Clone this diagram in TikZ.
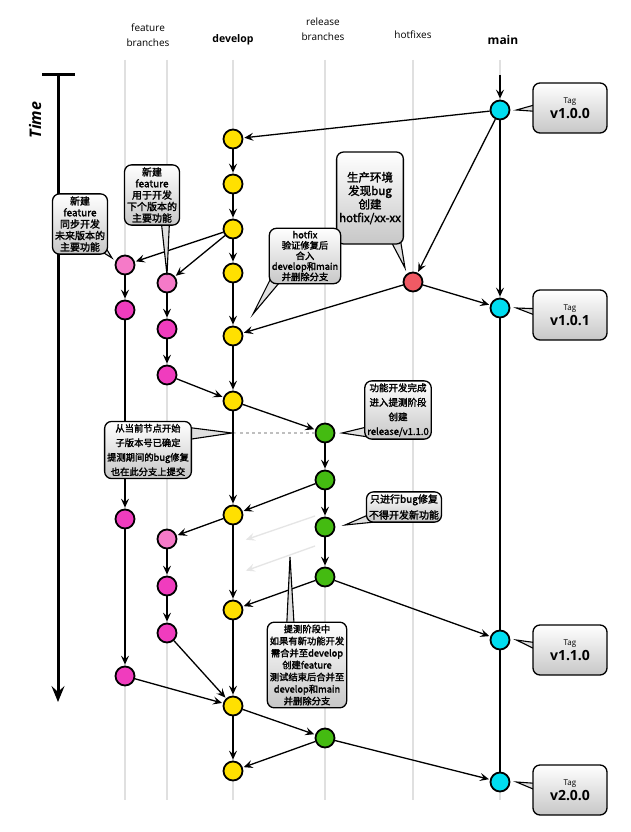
\documentclass[tikz,border=0pt]{standalone}
\usepackage{fontspec}
\setmainfont{Open Sans}
\newfontfamily\cjk[FakeBold=2]{Noto Sans CJK SC}
\usetikzlibrary{arrows.meta}
\definecolor{cy}{HTML}{FFE000}
\definecolor{cp}{HTML}{F03CBE}
\definecolor{cpl}{HTML}{F57AC8}
\definecolor{cg}{HTML}{44BB11}
\definecolor{cc}{HTML}{00DDF0}
\definecolor{cr}{HTML}{F05A64}
\begin{document}
\begin{tikzpicture}[x=1pt,y=-1pt,
 cmt/.style={circle,draw=black,line width=1.8pt,minimum size=19pt,inner sep=0pt},
 dv/.style={cmt,fill=cy}, ft/.style={cmt,fill=cp}, ftl/.style={cmt,fill=cpl},
 rl/.style={cmt,fill=cg}, mn/.style={cmt,fill=cc}, hf/.style={cmt,fill=cr},
 ar/.style={-{Stealth[length=9pt,width=8pt,inset=3.5pt]},line width=1.3pt,shorten >=1pt},
 ln/.style={line width=1.3pt},
 lane/.style={line width=2.5pt,black!12},
 co/.style={rounded corners=7pt,draw=black,line width=1.3pt,top color=white,bottom color=black!22,align=center,inner sep=2.5pt,font=\cjk\fontsize{10}{11.5}\selectfont},
 ptr/.style={draw=black,line width=1.1pt,fill=black!12},
 hd/.style={font=\fontsize{10}{15}\selectfont,align=center}]
\useasboundingbox (0,0) rectangle (631,832);
\fill[white] (0,0) rectangle (631,832);
% lanes
\foreach \x in {125,167,233,325,413,500} \draw[lane] (\x,60) -- (\x,800);
% headers
\node[hd] (h1t) at (148,35) {feature\\branches};
\node[hd,font=\bfseries\fontsize{10.5}{12}\selectfont] (h2t) at (233,40) {develop};
\node[hd] (h3t) at (323,29) {release\\branches};
\node[hd] (h4t) at (413,35) {hotfixes};
\node[hd,font=\bfseries\fontsize{12}{12}\selectfont] (h5t) at (503,40) {main};
% time
\coordinate (t0) at (58,76); \coordinate (t1) at (58,702);
\draw[line width=3pt] (42,75) -- (75,75);
\draw[line width=3pt,-{Stealth[length=16pt,width=13pt,inset=6pt]}] (t0) -- (t1);
\node[rotate=90,font=\bfseries\itshape\fontsize{16}{16}\selectfont] (tm) at (35,120) {Time};
% nodes
\node[mn] (m1) at (500,110) {}; \node[mn] (m2) at (500,308) {};
\node[mn] (m3) at (500,640) {}; \node[mn] (m4) at (500,782) {};
\node[hf] (hx) at (413,282) {};
\foreach \n/\y in {1/139,2/184,3/229,4/273,5/336,6/401,7/515,8/610,9/706,10/771}
  \node[dv] (d\n) at (233,\y) {};
\node[ftl] (fa) at (125,265) {}; \node[ft] (fb) at (125,310) {};
\node[ft] (fc) at (125,519) {}; \node[ft] (fd) at (125,676) {};
\node[ftl] (ga) at (167,283) {}; \node[ft] (gb) at (167,329) {};
\node[ft] (gc) at (167,375) {}; \node[ftl] (gd) at (167,539) {};
\node[ft] (ge) at (167,586) {}; \node[ft] (gf) at (167,633) {};
\node[rl] (r1) at (325,433) {}; \node[rl] (r2) at (325,480) {};
\node[rl] (r3) at (325,527) {}; \node[rl] (r4) at (325,577) {};
\node[rl] (r5) at (325,738) {};
% edges
\coordinate (mtop) at (500,75);
\draw[ar] (mtop) -- (m1);
\draw[ar] (m1) -- (d1); \draw[ar] (m1) -- (hx); \draw[ar] (m1) -- (m2);
\draw[ar] (hx) -- (m2); \draw[ar] (hx) -- (d5);
\draw[ar] (d1) -- (d2); \draw[ar] (d2) -- (d3); \draw[ar] (d3) -- (d4);
\draw[ar] (d4) -- (d5); \draw[ar] (d5) -- (d6);
\draw[ar] (d3) -- (fa); \draw[ar] (d3) -- (ga);
\draw[ar] (fa) -- (fb); \draw[ar] (ga) -- (gb); \draw[ar] (gb) -- (gc);
\draw[ar] (gc) -- (d6);
\draw[ar] (d6) -- (r1);
\draw[ar] (r1) -- (r2); \draw[ar] (r2) -- (r3); \draw[ar] (r3) -- (r4);
\draw[ar] (r2) -- (d7); \draw[ar] (d6) -- (d7);
\draw[ar] (fb) -- (fc); \draw[ar] (d7) -- (gd);
\draw[ar] (gd) -- (ge); \draw[ar] (ge) -- (gf);
\draw[ar] (gf) -- (d9); \draw[ar] (fc) -- (fd); \draw[ar] (fd) -- (d9);
\draw[ar] (r4) -- (d8); \draw[ar] (r4) -- (m3);
\draw[ar] (d7) -- (d8); \draw[ar] (d8) -- (d9);
\draw[ln] (m2) -- (m3);
\draw[ar] (d9) -- (r5); \draw[ar] (r5) -- (d10); \draw[ar] (d9) -- (d10);
\draw[ar] (r5) -- (m4); \draw[ln] (m3) -- (m4);
% ghost arrows
\coordinate (g1a) at (315,516); \coordinate (g1b) at (245,540);
\coordinate (g2a) at (315,546); \coordinate (g2b) at (245,571);
\draw[ar,black!10] (g1a) -- (g1b); \draw[ar,black!10] (g2a) -- (g2b);
\coordinate (dsh) at (240,433);
\draw[black!25,dashed,line width=1.2pt] (dsh) -- (r1);
% callouts
\draw[ptr] (112,258) -- (75,235) -- (95,230) -- cycle;
\node[co] (c1) at (80,224) {新建\\feature\\同步开发\\未来版本的\\主要功能};
\draw[ptr] (167,275) -- (160,210) -- (170,210) -- cycle;
\node[co] (c2) at (152,195) {新建\\feature\\用于开发\\下个版本的\\主要功能};
\draw[ptr] (405,268) -- (385,230) -- (398,225) -- cycle;
\node[co,font=\cjk\fontsize{11.5}{13.5}\selectfont,minimum height=92pt] (c3) at (370,198) {生产环境\\发现bug\\创建\\hotfix/xx-xx};
\draw[ptr] (253,314) -- (275,270) -- (290,270) -- cycle;
\node[co,font=\cjk\fontsize{9.3}{10.5}\selectfont] (c4) at (305,256) {hotfix\\验证修复后\\合入\\develop和main\\并删除分支};
\draw[ptr] (342,433) -- (375,425) -- (375,438) -- cycle;
\node[co,font=\cjk\fontsize{9.5}{14.5}\selectfont] (c5) at (398,410) {功能开发完成\\进入提测阶段\\创建\\release/v1.1.0};
\draw[ptr] (232,433) -- (185,427) -- (185,440) -- cycle;
\node[co,font=\cjk\fontsize{9.3}{14.5}\selectfont] (c6) at (148,450) {从当前节点开始\\子版本号已确定\\提测期间的bug修复\\也在此分支上提交};
\draw[ptr] (345,525) -- (375,512) -- (375,522) -- cycle;
\node[co,font=\cjk\fontsize{10}{16}\selectfont] (c7) at (404,507) {只进行bug修复\\不得开发新功能};
\draw[ptr] (290,557) -- (286,640) -- (295,640) -- cycle;
\node[co,font=\cjk\fontsize{9.3}{12}\selectfont] (c8) at (307,665) {提测阶段中\\如果有新功能开发\\需合并至develop\\创建feature\\测试结束后合并至\\develop和main\\并删除分支};
% tags
\foreach \n/\m/\y/\v in {t1/m1/108/v1.0.0,t2/m2/315/v1.0.1,t3/m3/650/v1.1.0,t4/m4/790/v2.0.0}{
 \draw[ptr] ([xshift=6pt]\m.east) -- (545,\y-6) -- (545,\y+4) -- cycle;
 \node[co,minimum width=74pt,minimum height=50pt,font=\bfseries\fontsize{14}{15}\selectfont] (\n) at (570,\y) {{\fontsize{8}{9}\mdseries Tag}\\\v};
}
\end{tikzpicture}
\end{document}
